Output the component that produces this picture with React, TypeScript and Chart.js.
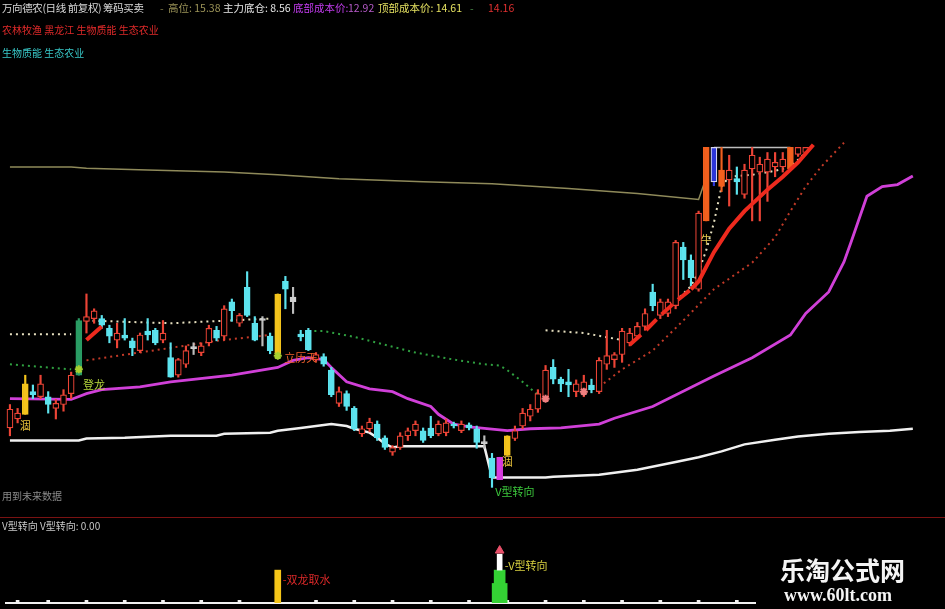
import React, { useEffect, useRef, useState } from 'react';
import { Chart, registerables } from 'chart.js';

Chart.register(...registerables);

// ---------- header readings ----------
const STOCK_TITLE = '万向德农(日线 前复权) 筹码买卖';
const SECTOR_TAGS = '农林牧渔 黑龙江 生物质能 生态农业';
const CONCEPT_TAGS = '生物质能 生态农业';
const FUTURE_NOTE = '用到未来数据';
const HIGH_LEVEL = 15.38;
const MAIN_BASE = 8.56;
const BOTTOM_COST = 12.92;
const TOP_COST = 14.61;
const LAST_MARK = 14.16;
const V_TURN_VALUE = 0;

// ---------- daily candles (index = trading day) ----------
const OPEN = [
  8.20, 8.43, 8.55, 9.13, 9.00, 9.00, 8.70, 8.80, 9.08, 9.55,
  10.93, 11.00, 11.00, 10.75, 10.45, 10.58, 10.43, 10.18, 10.68, 10.70,
  10.45, 10.00, 9.55, 9.83, 10.23, 10.13, 10.38, 10.70, 10.55, 11.43,
  10.88, 11.80, 10.88, 11.00, 10.55, 10.08, 11.95, 11.55, 10.60, 10.70,
  9.95, 10.03, 9.68, 8.83, 9.08, 8.70, 8.05, 8.18, 8.30, 7.95,
  7.58, 7.70, 8.00, 8.13, 8.13, 8.20, 8.05, 8.08, 8.30, 8.13,
  8.28, 8.18, 7.85, 7.43, 6.88, 7.50, 7.93, 8.25, 8.50, 8.68,
  8.95, 9.75, 9.45, 9.38, 9.13, 9.18, 9.30, 9.13, 9.83, 9.95,
  10.08, 10.38, 10.55, 10.80, 11.68, 11.08, 11.13, 11.33, 12.83, 12.50,
  11.75, 13.50, 15.38, 14.38, 14.55, 14.58, 14.18, 14.83, 14.75, 14.75,
  14.88, 14.88, 14.83, 15.20, 15.25,
];
const CLOSE = [
  8.68, 8.58, 9.33, 9.05, 9.33, 8.80, 8.83, 9.05, 9.55, 10.95,
  11.05, 11.20, 10.83, 10.55, 10.63, 10.50, 10.25, 10.58, 10.58, 10.38,
  10.63, 9.50, 9.95, 10.18, 10.28, 10.30, 10.75, 10.50, 11.25, 11.20,
  11.08, 11.08, 10.45, 10.95, 10.18, 11.63, 11.75, 11.43, 10.53, 10.20,
  10.08, 9.83, 9.05, 9.13, 8.75, 8.18, 8.18, 8.35, 7.95, 7.70,
  7.70, 8.00, 8.13, 8.30, 7.88, 8.00, 8.30, 8.33, 8.25, 8.30,
  8.20, 7.83, 7.80, 6.93, 7.45, 8.00, 8.13, 8.58, 8.68, 9.08,
  9.68, 9.45, 9.33, 9.30, 9.33, 9.38, 9.18, 9.93, 10.05, 10.08,
  10.68, 10.63, 10.80, 11.13, 11.33, 11.43, 11.43, 12.95, 12.50, 12.05,
  13.70, 15.38, 14.50, 14.80, 14.80, 14.50, 14.80, 15.18, 14.95, 15.08,
  15.00, 15.08, 15.38, 15.38, 15.38,
];
const HIGH = [
  8.80, 8.70, 9.55, 9.30, 9.55, 9.13, 8.93, 9.18, 9.63, 11.00,
  11.63, 11.25, 11.08, 10.83, 10.88, 11.00, 10.50, 10.63, 11.00, 10.75,
  10.95, 10.38, 9.98, 10.30, 10.38, 10.38, 10.83, 10.80, 11.33, 11.50,
  11.13, 12.20, 11.05, 11.05, 10.63, 11.63, 12.08, 11.80, 10.70, 10.75,
  10.13, 10.10, 9.75, 9.25, 9.15, 8.75, 8.25, 8.45, 8.38, 8.00,
  7.75, 8.08, 8.20, 8.38, 8.20, 8.50, 8.38, 8.43, 8.35, 8.38,
  8.33, 8.25, 8.00, 7.55, 7.45, 8.00, 8.25, 8.70, 8.80, 9.18,
  9.80, 9.95, 9.50, 9.70, 9.43, 9.55, 9.45, 10.00, 10.70, 10.13,
  10.75, 10.75, 10.90, 11.25, 11.88, 11.50, 11.50, 13.00, 12.95, 12.63,
  13.75, 15.38, 15.38, 15.38, 15.18, 14.88, 14.95, 15.38, 15.13, 15.25,
  15.25, 15.25, 15.38, 15.38, 15.38,
];
const LOW = [
  8.00, 8.33, 8.55, 8.95, 8.95, 8.58, 8.43, 8.63, 8.95, 9.55,
  10.63, 10.88, 10.75, 10.38, 10.25, 10.45, 10.05, 10.13, 10.45, 10.33,
  10.38, 9.50, 9.50, 9.75, 10.08, 10.05, 10.30, 10.43, 10.45, 10.93,
  10.80, 11.05, 10.43, 10.30, 10.10, 10.08, 11.25, 11.13, 10.43, 10.18,
  9.90, 9.78, 9.00, 8.75, 8.65, 8.13, 7.98, 8.10, 7.88, 7.65,
  7.50, 7.65, 7.88, 8.00, 7.83, 7.95, 8.00, 8.00, 8.20, 8.08,
  8.15, 7.68, 7.68, 6.68, 6.88, 7.50, 7.88, 8.18, 8.38, 8.60,
  8.88, 9.33, 9.13, 9.00, 9.00, 9.00, 9.10, 9.08, 9.70, 9.75,
  9.88, 10.30, 10.50, 10.70, 11.20, 11.00, 11.05, 11.25, 12.00, 11.83,
  11.70, 13.50, 14.40, 14.25, 13.88, 14.18, 14.08, 13.50, 13.50, 14.00,
  14.63, 14.75, 14.83, 15.15, 15.20,
];
// u = rising, d = falling, x = doji; Y/G/M/O/B are signal-coloured bars
const KIND = [
  'u', 'u', 'Y', 'd', 'u', 'd', 'u', 'u', 'u', 'G',
  'u', 'u', 'd', 'd', 'u', 'd', 'd', 'u', 'd', 'd',
  'u', 'd', 'u', 'u', 'x', 'u', 'u', 'd', 'u', 'd',
  'u', 'd', 'd', 'x', 'd', 'Y', 'd', 'x', 'd', 'd',
  'u', 'd', 'd', 'u', 'd', 'd', 'u', 'u', 'd', 'd',
  'u', 'u', 'u', 'u', 'd', 'd', 'u', 'u', 'd', 'u',
  'd', 'd', 'x', 'd', 'M', 'Y', 'u', 'u', 'u', 'u',
  'u', 'd', 'd', 'd', 'u', 'u', 'd', 'u', 'u', 'u',
  'u', 'u', 'u', 'u', 'd', 'u', 'u', 'u', 'd', 'd',
  'u', 'O', 'B', 'O', 'u', 'd', 'u', 'u', 'u', 'u',
  'u', 'u', 'O', 'u', 'u',
];

// ---------- overlay lines: [day, price] ----------
const COST_LINE = [
  [0, 7.88], [9, 7.88], [10, 7.93], [15, 7.95], [21, 8.0], [27, 8.0], [28, 8.05], [34, 8.08],
  [35, 8.13], [38, 8.2], [42, 8.3], [44, 8.25], [45, 8.18], [47, 8.08], [48, 7.95], [49, 7.8],
  [50, 7.7], [51, 7.73], [62, 7.73], [63, 6.93], [70, 6.93], [71, 6.95], [77, 7.0], [82, 7.13],
  [87, 7.33], [90, 7.45], [93, 7.6], [96, 7.78], [100, 7.9], [103, 7.98], [107, 8.05],
  [111, 8.1], [115, 8.13], [118, 8.18],
];
const AVG_LINE = [
  [0, 8.95], [8, 8.93], [10, 9.08], [12, 9.18], [17, 9.25], [21, 9.38], [29, 9.55], [35, 9.75],
  [37, 9.93], [39, 10.0], [41, 9.95], [42, 9.75], [44, 9.38], [47, 9.2], [50, 9.13], [52, 8.95],
  [55, 8.75], [56, 8.55], [58, 8.3], [60, 8.23], [65, 8.13], [68, 8.18], [72, 8.2], [77, 8.3],
  [79, 8.45], [84, 8.75], [92, 9.53], [97, 10.0], [102, 10.58], [104, 11.13], [107, 11.68],
  [109, 12.45], [110, 13.0], [112, 14.13], [114, 14.38], [116, 14.43], [118, 14.65],
];
const LONG_LINE = [
  [0, 14.88], [8, 14.88], [10, 14.85], [18, 14.8], [28, 14.75], [35, 14.68], [43, 14.58],
  [54, 14.5], [63, 14.45], [73, 14.33], [82, 14.2], [90, 14.05], [91, TOP_COST],
];
const TOP_BOX = [[92, HIGH_LEVEL], [102, HIGH_LEVEL]];
const TREND_EARLY = [[10, 10.45], [12, 10.8]];
const TREND_LATE = [
  [81, 10.33], [83, 10.68], [85, 11.08], [87, 11.43], [89, 11.75], [90, 11.95], [92, 12.7],
  [94, 13.3], [96, 13.75], [99, 14.3], [101, 14.63], [103, 15.0], [105, 15.45],
];
const WHITE_GUIDE = [
  [[0, 10.6], [8, 10.6]],
  [[10, 10.95], [21, 10.88], [34, 11.0]],
  [[70, 10.7], [75, 10.63], [80, 10.45]],
  [[87, 11.45], [89, 11.83], [90, 12.2], [91, 12.75], [92, 13.45], [93, 14.38], [94, 14.63],
    [97, 14.68], [100, 14.78], [102, 14.88], [104, 15.25]],
];
const GREEN_GUIDE = [
  [[0, 9.83], [8, 9.7]],
  [[39, 10.68], [41, 10.68], [45, 10.53], [49, 10.33], [53, 10.13], [58, 9.95], [62, 9.83],
    [64, 9.8], [65, 9.68], [67, 9.38], [69, 9.05]],
];
const RED_GUIDE = [
  [[10, 9.93], [21, 10.25], [27, 10.43], [34, 10.58]],
  [[77, 9.25], [80, 9.7], [84, 10.18], [88, 10.95], [92, 11.75], [97, 12.43], [100, 13.08],
    [102, 13.75], [104, 14.38], [106, 14.88], [109, 15.5]],
];
const PINK_MARKS = [[70, 8.95], [75, 9.13]];
const GREEN_MARKS = [[9, 9.7], [35, 10.05]];
const SIGNAL_LABELS: [number, number, string][] = [
  [2, 8.43, '涸'], [11, 9.48, '登龙'], [38, 10.18, '立历天'],
  [65, 7.5, '涸'], [66, 6.75, 'V型转向'], [91, 13.2, '牛'],
];

// ---------- indicator panel ----------
const TICK_DAYS = [1, 5, 10, 15, 20, 25, 30, 35, 40, 45, 50, 55, 60, 65, 70, 75, 80, 85, 90, 95];
const TICK_VALUE = 3;
const DRAGON_DAY = 35;
const DRAGON_VALUE = 37;
const V_DAY = 64;
const V_BASE = 22;
const V_BODY = 37;
const V_PEAK = 55;
const V_ARROW = 59;
const INDICATOR_LABELS: [number, number, string][] = [
  [DRAGON_DAY, 34, '-双龙取水'], [V_DAY, 50, '-V型转向'],
];

// ---------- layout / styles ----------
const W = 945;
const PRICE_H = 517;
const IND_H = 92;
const X_MIN = -0.516;
const X_MAX = 121.42;
const FONT = '"Noto Sans CJK SC", "Noto Sans", sans-serif';

const CANDLE_STYLE: Record<string, { fill: string; line: string; wick: string }> = {
  u: { fill: '#000000', line: '#ec4436', wick: '#ec4436' },
  d: { fill: '#5de3ee', line: '#5de3ee', wick: '#5de3ee' },
  x: { fill: '#cfcfcf', line: '#cfcfcf', wick: '#bdbdbd' },
  Y: { fill: '#f4c41c', line: '#f4c41c', wick: '#f4c41c' },
  G: { fill: '#2a9c64', line: '#2a9c64', wick: '#2a9c64' },
  M: { fill: '#d83ce0', line: '#d83ce0', wick: '#d83ce0' },
  O: { fill: '#f2601e', line: '#f2601e', wick: '#f2601e' },
  B: { fill: '#2c36d8', line: '#d8d8f0', wick: '#2c36d8' },
};
const TAG_COLOR: Record<string, string> = {
  '涸': '#e8c23a',
  '登龙': '#b8d83c',
  '立历天': '#f0602c',
  'V型转向': '#3cc83c',
  '牛': '#e8cc50',
  '-双龙取水': '#d82828',
  '-V型转向': '#d8d040',
};

const pts = (a: number[][]) => a.map(([x, y]) => ({ x, y }));

const lineSet = (data: number[][], color: string, width: number, order: number, dash?: number[]) => ({
  type: 'line' as const,
  data: pts(data),
  borderColor: color,
  borderWidth: width,
  borderDash: dash,
  pointRadius: 0,
  tension: 0,
  fill: false,
  order,
});

type Tag = { x: number; y: number; text: string };

function Txt(props: { x: number; y: number; color: string; size?: number; children: React.ReactNode; bold?: boolean; family?: string; spacing?: number }) {
  return (
    <div
      style={{
        position: 'absolute',
        left: props.x,
        top: props.y,
        color: props.color,
        fontSize: props.size ?? 10.5,
        fontFamily: props.family ?? FONT,
        fontWeight: props.bold ? 700 : 400,
        letterSpacing: props.spacing ?? 0,
        whiteSpace: 'nowrap',
        lineHeight: 1.1,
      }}
    >
      {props.children}
    </div>
  );
}

export default function App() {
  const priceRef = useRef<HTMLCanvasElement>(null);
  const indRef = useRef<HTMLCanvasElement>(null);
  const [priceTags, setPriceTags] = useState<Tag[]>([]);
  const [indTags, setIndTags] = useState<Tag[]>([]);

  useEffect(() => {
    document.body.style.margin = '0';
    document.body.style.background = '#000';

    const styles = KIND.map((k) => CANDLE_STYLE[k]);
    const bodies = OPEN.map((o, i) => ({ x: i, y: [o, CLOSE[i]] }));
    const wicks = HIGH.map((h, i) => ({ x: i, y: [LOW[i], h] }));

    const priceDatasets: any[] = [
      {
        type: 'bar',
        data: bodies,
        backgroundColor: styles.map((s) => s.fill),
        borderColor: styles.map((s) => s.line),
        borderWidth: 1.2,
        borderSkipped: false,
        barThickness: 6,
        grouped: false,
        order: 2,
      },
      {
        type: 'bar',
        data: wicks,
        backgroundColor: styles.map((s) => s.wick),
        borderWidth: 0,
        barThickness: 1.5,
        grouped: false,
        order: 3,
      },
      lineSet(TREND_EARLY, '#ee2a1e', 4, 1),
      {
        ...lineSet(TREND_LATE, '#ee2a1e', 4, 1),
        segment: { borderDash: (ctx: any) => (ctx.p1.parsed.x <= 89 ? [15, 7] : undefined) },
      },
      ...WHITE_GUIDE.map((s) => lineSet(s, '#e6dfbf', 2, 4, [2, 4])),
      ...GREEN_GUIDE.map((s) => lineSet(s, '#2fa040', 2, 5, [2, 4])),
      ...RED_GUIDE.map((s) => lineSet(s, '#c23a28', 2, 5, [2, 4])),
      lineSet(AVG_LINE, '#d040d8', 2.8, 6),
      lineSet(COST_LINE, '#f0f0f0', 2.5, 7),
      lineSet(LONG_LINE, '#8f8a5a', 1.5, 8),
      lineSet(TOP_BOX, '#bdbdbd', 1.5, 8),
      {
        type: 'line',
        data: pts(PINK_MARKS),
        showLine: false,
        pointStyle: 'star',
        pointRadius: 4,
        pointBorderWidth: 2,
        pointBorderColor: '#f08080',
        pointBackgroundColor: '#f08080',
        order: 0,
      },
      {
        type: 'line',
        data: pts(GREEN_MARKS),
        showLine: false,
        pointStyle: 'star',
        pointRadius: 4,
        pointBorderWidth: 2,
        pointBorderColor: '#a8d030',
        pointBackgroundColor: '#a8d030',
        order: 0,
      },
    ];

    const price = new Chart(priceRef.current!, {
      type: 'bar',
      data: { datasets: priceDatasets },
      options: {
        animation: false,
        responsive: false,
        maintainAspectRatio: false,
        layout: { padding: 0 },
        plugins: { legend: { display: false }, tooltip: { enabled: false } },
        scales: {
          x: { type: 'linear', min: X_MIN, max: X_MAX, offset: false, display: false },
          y: { type: 'linear', min: 6.075, max: 19, display: false },
        },
      },
    });

    const indDatasets: any[] = [
      {
        type: 'bar',
        data: TICK_DAYS.map((d) => ({ x: d, y: TICK_VALUE })),
        backgroundColor: '#f2f2f2',
        barThickness: 3,
        grouped: false,
        order: 3,
      },
      {
        type: 'bar',
        data: [{ x: DRAGON_DAY, y: DRAGON_VALUE }],
        backgroundColor: '#f5c518',
        barThickness: 6,
        grouped: false,
        order: 2,
      },
      {
        type: 'bar',
        data: [{ x: V_DAY, y: V_BASE }],
        backgroundColor: '#34d234',
        barThickness: 15,
        grouped: false,
        order: 2,
      },
      {
        type: 'bar',
        data: [{ x: V_DAY, y: V_BODY }],
        backgroundColor: '#34d234',
        barThickness: 11,
        grouped: false,
        order: 2,
      },
      {
        type: 'bar',
        data: [{ x: V_DAY, y: [V_BODY, V_PEAK] }],
        backgroundColor: '#ffffff',
        barThickness: 5,
        grouped: false,
        order: 1,
      },
      {
        type: 'line',
        data: [{ x: V_DAY, y: V_ARROW }],
        showLine: false,
        pointStyle: 'triangle',
        pointRadius: 5,
        pointBackgroundColor: '#e8506a',
        pointBorderColor: '#e8506a',
        order: 0,
      },
    ];

    const ind = new Chart(indRef.current!, {
      type: 'bar',
      data: { datasets: indDatasets },
      options: {
        animation: false,
        responsive: false,
        maintainAspectRatio: false,
        layout: { padding: { left: 0, right: 0, top: 0, bottom: 2 } },
        plugins: { legend: { display: false }, tooltip: { enabled: false } },
        scales: {
          x: {
            type: 'linear',
            min: X_MIN,
            max: X_MAX,
            offset: false,
            ticks: { display: false },
            grid: { display: false, drawTicks: false },
            border: { display: true, color: '#f0f0f0', width: 2 },
          },
          y: { type: 'linear', min: 0, max: 90, display: false },
        },
      },
    });

    setPriceTags(
      SIGNAL_LABELS.map(([d, p, text]) => ({
        x: price.scales.x.getPixelForValue(d),
        y: price.scales.y.getPixelForValue(p),
        text,
      })),
    );
    setIndTags(
      INDICATOR_LABELS.map(([d, v, text]) => ({
        x: ind.scales.x.getPixelForValue(d),
        y: ind.scales.y.getPixelForValue(v),
        text,
      })),
    );

    return () => {
      price.destroy();
      ind.destroy();
    };
  }, []);

  return (
    <div style={{ position: 'relative', width: W, height: PRICE_H + IND_H, background: '#000', overflow: 'hidden' }}>
      <canvas ref={priceRef} width={W} height={PRICE_H} style={{ position: 'absolute', left: 0, top: 0, display: 'block' }} />
      <canvas ref={indRef} width={W} height={IND_H} style={{ position: 'absolute', left: 0, top: PRICE_H, display: 'block' }} />
      <div style={{ position: 'absolute', left: 0, top: PRICE_H, width: W, height: 1, background: '#7a1212' }} />

      {/* header readings */}
      <Txt x={2} y={2} color="#d8d8d8" spacing={-0.4}>{STOCK_TITLE}</Txt>
      <Txt x={160} y={2} color="#7f7a48">-</Txt>
      <Txt x={168} y={2} color="#9c9458">高位: {HIGH_LEVEL.toFixed(2)}</Txt>
      <Txt x={223} y={2} color="#e6e6e6">主力底仓: {MAIN_BASE.toFixed(2)}</Txt>
      <Txt x={293} y={2} color="#c43cf0">底部成本价: </Txt>
      <Txt x={348} y={2} color="#b65ac8">{BOTTOM_COST.toFixed(2)}</Txt>
      <Txt x={378} y={2} color="#e4e060">顶部成本价: {TOP_COST.toFixed(2)}</Txt>
      <Txt x={470} y={2} color="#4a8a4a">-</Txt>
      <Txt x={488} y={2} color="#e03030">{LAST_MARK.toFixed(2)}</Txt>
      <Txt x={2} y={24} color="#e02a2a" size={10}>{SECTOR_TAGS}</Txt>
      <Txt x={2} y={47} color="#38c8c8" size={10}>{CONCEPT_TAGS}</Txt>
      <Txt x={2} y={490} color="#8a8a8a" size={10}>{FUTURE_NOTE}</Txt>
      <Txt x={2} y={520} color="#c8c8c8" size={10}>V型转向 V型转向: {V_TURN_VALUE.toFixed(2)}</Txt>

      {priceTags.map((t, i) => (
        <div
          key={'p' + i}
          style={{
            position: 'absolute',
            left: t.x,
            top: t.y,
            transform: 'translateX(-50%)',
            color: TAG_COLOR[t.text],
            fontSize: 11,
            fontFamily: FONT,
            whiteSpace: 'nowrap',
            lineHeight: 1.1,
          }}
        >
          {t.text}
        </div>
      ))}
      {indTags.map((t, i) => (
        <div
          key={'i' + i}
          style={{
            position: 'absolute',
            left: t.x + 5,
            top: PRICE_H + t.y,
            color: TAG_COLOR[t.text],
            fontSize: 11,
            fontFamily: FONT,
            whiteSpace: 'nowrap',
            lineHeight: 1.1,
          }}
        >
          {t.text}
        </div>
      ))}

      {/* site mark */}
      <div style={{ position: 'absolute', left: 756, top: 552, width: 189, height: 57, background: '#000' }}>
        <Txt x={24} y={4} color="#f4f4f4" size={25} bold>乐淘公式网</Txt>
        <Txt x={28} y={34} color="#f4f4f4" size={18} bold family='"Liberation Serif", serif'>www.60lt.com</Txt>
      </div>
    </div>
  );
}
